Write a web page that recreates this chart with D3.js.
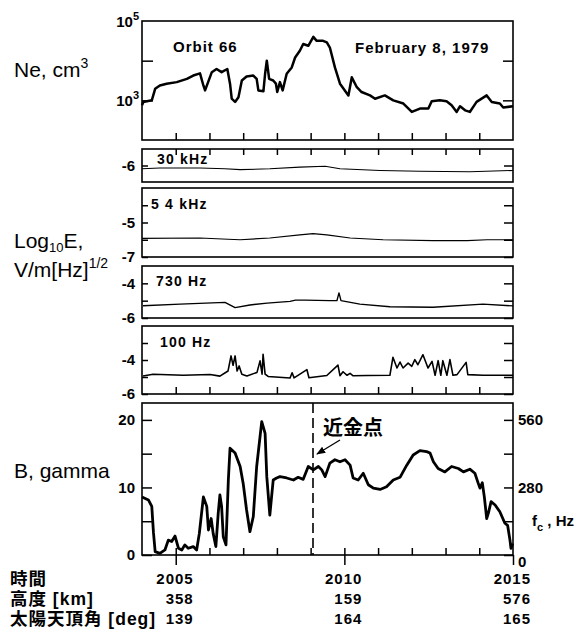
<!DOCTYPE html>
<html><head><meta charset="utf-8">
<script src="https://cdn.jsdelivr.net/npm/d3@7"></script>
<style>
html,body{margin:0;padding:0;background:#fff;}
svg text{font-family:"Liberation Sans",Arial,sans-serif;fill:#000;}
.cjk{font-family:"Noto Sans CJK JP","Noto Sans CJK SC",sans-serif;font-weight:700;}
.row{font-family:"Liberation Sans","Noto Sans CJK JP",sans-serif;font-weight:700;}
.b{font-weight:700;}
</style></head><body>
<svg id="c" width="579" height="635"></svg>
<script>
// ---------------- DATA ----------------
const timeDomain = [2004, 2015];                 // UT (hhmm)
const minuteTicks = [2005,2006,2007,2008,2009,2010,2011,2012,2013,2014];
const labelTimes = [2005, 2010, 2015];
const altitudeKm = [358, 159, 576];
const solarZenithDeg = [139, 164, 165];
const orbitLabel = "Orbit 66";
const dateLabel = "February 8, 1979";
const perigeeTime = 2009.07;

// electron density Ne (cm^-3)
const neTime = [2004.00,2004.04,2004.29,2004.39,2004.53,2004.73,2005.03,2005.33,2005.52,2005.72,2005.82,2005.87,2006.07,2006.21,2006.36,2006.53,2006.61,2006.66,2006.76,2006.86,2006.96,2007.10,2007.30,2007.40,2007.45,2007.60,2007.65,2007.70,2007.77,2007.89,2007.97,2008.01,2008.09,2008.17,2008.29,2008.44,2008.54,2008.68,2008.78,2008.93,2009.08,2009.18,2009.37,2009.48,2009.57,2009.72,2009.87,2010.12,2010.22,2010.37,2010.51,2010.76,2010.91,2011.20,2011.45,2011.75,2012.00,2012.24,2012.49,2012.59,2012.83,2013.03,2013.18,2013.33,2013.43,2013.58,2013.72,2013.92,2014.22,2014.37,2014.61,2014.71,2015.00];
const neValue = [750,912,1000,1950,2370,2630,2880,3470,4220,4790,2370,1780,5130,6170,5130,6170,2630,1100,912,1200,3160,3980,4220,3470,1780,1700,4680,10000,3470,3160,2630,1620,2880,1780,4680,6760,12000,17800,26300,23700,39800,31600,31600,28800,21400,6760,2630,1330,3800,2140,1620,1330,1100,1330,1000,830,510,620,620,950,1000,950,750,510,710,560,510,912,1330,912,830,660,710];

// log10 E, V/m[Hz]^1/2
const e30Time  = [2004.00,2004.53,2005.72,2006.46,2006.91,2007.79,2008.68,2009.43,2009.87,2011.06,2012.24,2013.72,2015.00];
const e30Value = [-6.2,-6.15,-6.15,-6.2,-6.25,-6.2,-6.1,-6.05,-6.2,-6.3,-6.35,-6.38,-6.3];

const e5kTime  = [2004.00,2005.72,2006.55,2006.91,2007.79,2008.68,2009.07,2009.48,2010.17,2011.15,2012.63,2013.64,2014.23,2015.00];
const e5kValue = [-5.92,-5.9,-5.97,-6.0,-5.9,-5.72,-5.65,-5.72,-5.9,-6.0,-6.05,-6.05,-6.0,-6.0];

const e730Time  = [2004.03,2005.13,2006.46,2006.76,2007.20,2007.71,2008.39,2008.55,2008.83,2009.57,2009.78,2009.84,2009.90,2010.46,2011.35,2012.63,2014.11,2015.00];
const e730Value = [-5.29,-5.2,-5.1,-5.4,-5.25,-5.14,-5.04,-4.97,-4.97,-5.0,-5.0,-4.55,-5.0,-5.2,-5.35,-5.38,-5.2,-5.3];

const e100Time  = [2004.03,2004.33,2005.22,2006.02,2006.31,2006.55,2006.64,2006.70,2006.76,2006.82,2006.88,2006.96,2007.11,2007.41,2007.50,2007.56,2007.59,2007.65,2007.74,2008.39,2008.45,2008.51,2008.89,2008.95,2009.48,2009.81,2009.87,2009.96,2010.08,2010.17,2010.26,2010.67,2011.35,2011.44,2011.56,2011.65,2011.74,2011.89,2012.00,2012.09,2012.18,2012.33,2012.48,2012.60,2012.69,2012.78,2012.86,2012.92,2013.04,2013.13,2013.22,2013.34,2013.61,2013.66,2014.11,2015.00];
const e100Value = [-4.94,-4.84,-4.9,-4.85,-4.95,-4.65,-3.76,-4.31,-3.76,-4.65,-4.35,-4.84,-4.94,-4.73,-4.05,-4.83,-3.66,-4.83,-4.97,-5.06,-4.75,-5.05,-4.57,-5.04,-4.91,-4.3,-4.92,-4.69,-4.9,-4.79,-4.93,-4.91,-4.9,-3.84,-4.47,-4.12,-4.47,-4.18,-4.37,-3.98,-4.28,-3.69,-4.47,-4.08,-4.9,-4.04,-4.9,-4.04,-4.9,-3.98,-4.9,-4.86,-4.14,-4.86,-4.9,-4.9];

// magnetic field B (gamma)
const bTime = [2004.00,2004.19,2004.29,2004.34,2004.39,2004.53,2004.68,2004.78,2004.88,2004.98,2005.08,2005.18,2005.27,2005.37,2005.52,2005.62,2005.70,2005.82,2005.92,2005.97,2006.05,2006.11,2006.19,2006.26,2006.31,2006.36,2006.41,2006.49,2006.56,2006.61,2006.76,2006.91,2007.00,2007.10,2007.20,2007.30,2007.40,2007.55,2007.65,2007.70,2007.79,2007.89,2007.99,2008.09,2008.29,2008.49,2008.63,2008.78,2008.93,2009.08,2009.23,2009.33,2009.43,2009.57,2009.72,2009.87,2010.02,2010.17,2010.26,2010.41,2010.56,2010.71,2010.86,2011.06,2011.25,2011.45,2011.65,2011.85,2012.04,2012.24,2012.44,2012.54,2012.64,2012.78,2012.98,2013.18,2013.38,2013.53,2013.72,2013.87,2013.97,2014.02,2014.09,2014.15,2014.22,2014.27,2014.35,2014.47,2014.61,2014.76,2014.84,2014.91,2014.94,2014.99];
const bValue = [8.6,8.15,7.2,3.3,0.5,0.25,0.75,2.2,2.0,2.8,1.0,0.75,1.5,1.0,1.25,0.75,3.2,8.6,7.2,3.7,5.4,3.2,1.25,6.2,8.9,7.2,2.7,1.5,11.1,15.8,15.1,13.1,10.6,6.7,3.45,5.7,13.1,19.75,18.0,11.6,5.9,11.1,11.4,11.6,11.4,11.1,11.5,11.2,13.1,12.6,13.1,12.6,11.6,13.6,14.1,13.8,14.1,13.3,11.4,11.1,12.1,10.4,9.9,9.7,10.1,11.1,11.5,13.3,14.8,15.45,15.3,15.1,13.8,12.8,12.3,13.1,12.8,12.3,12.7,12.1,10.6,9.9,10.7,8.6,5.4,6.2,7.9,7.4,6.4,4.7,4.4,2.2,1.0,1.7];

// ---------------- DRAW ----------------
const svg = d3.select("#c");
svg.append("rect").attr("width",579).attr("height",635).attr("fill","#fff");

const X0 = 142, X1 = 513;
const x = d3.scaleLinear().domain(timeDomain).range([X0, X1]);

function zip(t, v){ return t.map((d,i)=>({t:d, v:v[i]})); }
function frame(top, bottom){
  svg.append("rect").attr("x",X0).attr("y",top).attr("width",X1-X0).attr("height",bottom-top)
    .attr("fill","none").attr("stroke","#000").attr("stroke-width",1.6);
}
function trace(data, y, w){
  svg.append("path").datum(data).attr("fill","none").attr("stroke","#000")
    .attr("stroke-width",w).attr("stroke-linejoin","round")
    .attr("d", d3.line().x(d=>x(d.t)).y(d=>y(d.v)));
}
function styleAxis(g){
  g.select(".domain").remove();
  g.selectAll("line").attr("stroke","#000").attr("stroke-width",1.5);
  g.selectAll("text").attr("font-family",'"Liberation Sans",Arial,sans-serif')
   .attr("font-size",15).attr("font-weight",700).attr("fill","#000");
}
function timeTicks(yPos, up, len){
  const ax = (up ? d3.axisTop(x) : d3.axisBottom(x)).tickValues(minuteTicks).tickSize(len).tickFormat("");
  svg.append("g").attr("transform",`translate(0,${yPos})`).call(ax).call(styleAxis);
}

// ---- Ne panel
const NT = 21, NB = 140;
const yNe = d3.scaleLog().domain([100, 1e5]).range([NB, NT]);
frame(NT, NB);
svg.append("g").attr("transform",`translate(${X0},0)`)
  .call(d3.axisLeft(yNe).tickValues([1e3,1e4]).tickSize(-11).tickFormat("")).call(styleAxis);
svg.append("g").attr("transform",`translate(${X1},0)`)
  .call(d3.axisRight(yNe).tickValues([1e3,1e4]).tickSize(-10).tickFormat("")).call(styleAxis);
timeTicks(NB, true, 7);
trace(zip(neTime, neValue), yNe, 2.5);
[[1e5,"5"],[1e3,"3"]].forEach(([v,e])=>{
  const t = svg.append("text").attr("x",139).attr("y",yNe(v)+6).attr("text-anchor","end")
    .attr("font-size",15).attr("font-weight",700);
  t.append("tspan").text("10");
  t.append("tspan").attr("font-size",11).attr("dy",-7).text(e);
});
svg.append("text").attr("class","b").attr("x",173).attr("y",52).attr("font-size",15)
  .attr("letter-spacing",1).text(orbitLabel);
svg.append("text").attr("class","b").attr("x",355).attr("y",53).attr("font-size",15)
  .attr("letter-spacing",1).text(dateLabel);

// ---- E panels
const ePanels = [
  {top:149, bottom:182, dom:[-7,-5], ticks:[-6], labels:[-6], data:zip(e30Time,e30Value), w:1.1, name:"30 kHz", lx:157, ly:164},
  {top:188, bottom:257, dom:[-7,-3], ticks:[-7,-6,-5,-4], labels:[-5,-7], data:zip(e5kTime,e5kValue), w:1.2, name:"5 4 kHz", lx:151, ly:209},
  {top:266, bottom:318, dom:[-6,-3], ticks:[-6,-5,-4], labels:[-4,-6], data:zip(e730Time,e730Value), w:1.4, name:"730 Hz", lx:156, ly:286},
  {top:326, bottom:394, dom:[-6,-2], ticks:[-6,-5,-4,-3], labels:[-4,-6], data:zip(e100Time,e100Value), w:1.6, name:"100 Hz", lx:160, ly:347}
];
ePanels.forEach(p=>{
  const y = d3.scaleLinear().domain(p.dom).range([p.bottom, p.top]);
  frame(p.top, p.bottom);
  svg.append("g").attr("transform",`translate(${X0},0)`)
    .call(d3.axisLeft(y).tickValues(p.ticks).tickSize(-6).tickPadding(7)
      .tickFormat(d=>p.labels.includes(d)? String(d) : "")).call(styleAxis);
  svg.append("g").attr("transform",`translate(${X1},0)`)
    .call(d3.axisRight(y).tickValues(p.ticks).tickSize(-9).tickFormat("")).call(styleAxis);
  trace(p.data, y, p.w);
  svg.append("text").attr("class","b").attr("x",p.lx).attr("y",p.ly).attr("font-size",14)
    .attr("letter-spacing",1.2).text(p.name);
});
timeTicks(149, false, 6);
timeTicks(394, true, 7);

// ---- B panel
const BT = 403, BB = 555;
const yB = d3.scaleLinear().domain([0, 22.5]).range([BB, BT]);
const yFc = d3.scaleLinear().domain([0, 22.5*28]).range([BB, BT]);
frame(BT, BB);
svg.append("g").attr("transform",`translate(${X0},0)`)
  .call(d3.axisLeft(yB).tickValues([0,5,10,15,20]).tickSize(-10).tickPadding(7)
    .tickFormat(d=>[0,10,20].includes(d)? String(d) : "")).call(styleAxis);
const gr = svg.append("g").attr("transform",`translate(${X1},0)`)
  .call(d3.axisRight(yFc).tickValues([0,140,280,420,560]).tickSize(-9).tickPadding(5)
    .tickFormat(d=>[0,280,560].includes(d)? String(d) : "")).call(styleAxis);
gr.selectAll("text").filter(d=>d===0).attr("dy","0.75em");
timeTicks(BB, true, 7);
svg.append("g").attr("transform",`translate(0,${BB})`)
  .call(d3.axisBottom(x).tickValues(labelTimes).tickSize(10).tickFormat("")).call(styleAxis);
trace(zip(bTime, bValue), yB, 2.8);

// perigee marker
const px = x(perigeeTime);
svg.append("line").attr("x1",px).attr("x2",px).attr("y1",BT).attr("y2",BB)
  .attr("stroke","#000").attr("stroke-width",1.6).attr("stroke-dasharray","10,5");
svg.append("text").attr("class","cjk").attr("x",px+10).attr("y",435).attr("font-size",20).text("近金点");
svg.append("defs").append("marker").attr("id","ah").attr("viewBox","0 0 10 10").attr("refX",9).attr("refY",5)
  .attr("markerWidth",7).attr("markerHeight",7).attr("orient","auto")
  .append("path").attr("d","M0,1L10,5L0,9Z").attr("fill","#000");
svg.append("line").attr("x1",px+27).attr("y1",440).attr("x2",px+4).attr("y2",454)
  .attr("stroke","#000").attr("stroke-width",1.3).attr("marker-end","url(#ah)");

// fc label
const fc = svg.append("text").attr("class","b").attr("x",532).attr("y",526).attr("font-size",15);
fc.append("tspan").text("f");
fc.append("tspan").attr("font-size",11).attr("dy",5).text("c");
fc.append("tspan").attr("dy",-5).text(" , Hz");

// left titles
const ne = svg.append("text").attr("x",14).attr("y",77).attr("font-size",21);
ne.append("tspan").text("Ne, cm");
ne.append("tspan").attr("font-size",14).attr("dy",-9).text("3");
const lg = svg.append("text").attr("x",14).attr("y",248).attr("font-size",21);
lg.append("tspan").text("Log");
lg.append("tspan").attr("font-size",13).attr("dy",4).text("10");
lg.append("tspan").attr("dy",-4).text("E,");
const vm = svg.append("text").attr("x",14).attr("y",277).attr("font-size",21);
vm.append("tspan").text("V/m[Hz]");
vm.append("tspan").attr("font-size",14).attr("dy",-9).text("1/2");
svg.append("text").attr("x",14).attr("y",478).attr("font-size",21).text("B, gamma");

// bottom table
const rowY = [585, 605, 625];
const rowNames = ["時間", "高度 [km]", "太陽天頂角 [deg]"];
rowNames.forEach((n,i)=>svg.append("text").attr("class","row").attr("x",10).attr("y",rowY[i])
  .attr("font-size",17.5).attr("letter-spacing",1).text(n));
[labelTimes, altitudeKm, solarZenithDeg].forEach((row,i)=>{
  row.forEach((v,j)=>{
    svg.append("text").attr("class","b").attr("x",x(labelTimes[j])+18).attr("y",rowY[i]-1)
      .attr("text-anchor","end").attr("font-size",15).attr("letter-spacing",1).text(String(v));
  });
});
</script>
</body></html>
